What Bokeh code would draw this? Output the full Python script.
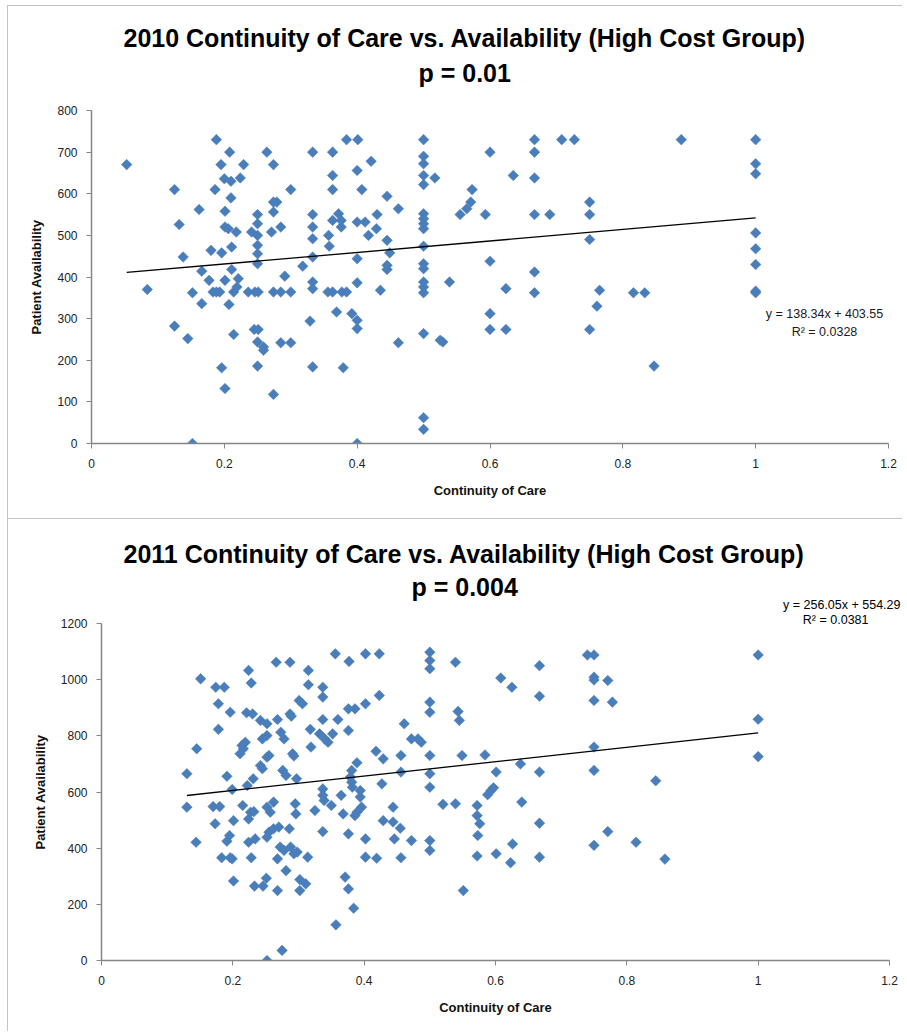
import numpy as np
from bokeh.plotting import figure
from bokeh.models import Range1d, FixedTicker, PrintfTickFormatter, Label, Title
from bokeh.embed import file_html
from bokeh.resources import INLINE

# 2010 high cost group: continuity of care vs patient availability
x_2010 = [0.053, 0.084, 0.125, 0.132, 0.138, 0.125, 0.145, 0.152, 0.162, 0.166,
          0.166, 0.152, 0.180, 0.177, 0.183, 0.188, 0.193, 0.188, 0.186, 0.195,
          0.196, 0.201, 0.201, 0.201, 0.196, 0.201, 0.207, 0.208, 0.200, 0.210,
          0.210, 0.206, 0.211, 0.211, 0.214, 0.218, 0.224, 0.229, 0.221, 0.219,
          0.214, 0.236, 0.246, 0.251, 0.241, 0.250, 0.250, 0.250, 0.250, 0.250,
          0.250, 0.245, 0.251, 0.250, 0.259, 0.259, 0.250, 0.264, 0.274, 0.271,
          0.274, 0.279, 0.274, 0.274, 0.274, 0.285, 0.285, 0.285, 0.291, 0.300,
          0.300, 0.300, 0.318, 0.329, 0.333, 0.333, 0.333, 0.333, 0.333, 0.333,
          0.333, 0.333, 0.357, 0.358, 0.356, 0.363, 0.363, 0.363, 0.363, 0.363,
          0.369, 0.372, 0.376, 0.376, 0.377, 0.384, 0.379, 0.384, 0.401, 0.400,
          0.407, 0.400, 0.400, 0.400, 0.392, 0.400, 0.400, 0.400,
          0.412, 0.421, 0.445, 0.462, 0.430, 0.429, 0.417, 0.445, 0.449, 0.445,
          0.445, 0.435, 0.462, 0.5, 0.5, 0.5, 0.5, 0.5, 0.517, 0.5,
          0.5, 0.5, 0.5, 0.5, 0.5, 0.5, 0.5, 0.5, 0.5, 0.539,
          0.5, 0.525, 0.529, 0.5, 0.5, 0.555, 0.565, 0.571, 0.573, 0.593,
          0.6, 0.6, 0.6, 0.6, 0.624, 0.624, 0.635, 0.667, 0.667, 0.667,
          0.667, 0.69, 0.667, 0.667, 0.708, 0.727, 0.75, 0.75, 0.75, 0.75,
          0.765, 0.761, 0.816, 0.833, 0.847, 0.888, 1.0, 1.0, 1.0, 1.0,
          1.0, 1.0, 1.0, 1.0]
y_2010 = [670, 370, 610, 526, 448, 282, 252, 362, 562, 414,
          336, 0, 464, 392, 364, 364, 364, 730, 610, 670,
          458, 558, 520, 392, 182, 132, 334, 700, 636, 630,
          590, 516, 418, 472, 262, 508, 638, 670, 396, 376,
          364, 364, 364, 364, 508, 550, 528, 500, 476, 456,
          432, 274, 274, 244, 232, 224, 186, 700, 670, 508,
          580, 580, 556, 364, 118, 520, 364, 242, 402, 610,
          364, 242, 426, 294, 700, 550, 520, 492, 448, 388,
          372, 184, 500, 474, 364, 364, 700, 644, 610, 536,
          316, 552, 536, 520, 364, 364, 182, 730, 730, 656,
          610, 532, 444, 386, 312, 296, 276, 0,
          532, 678, 594, 564, 550, 516, 500, 488, 458, 428,
          418, 368, 242, 730, 690, 672, 644, 622, 638, 552,
          540, 528, 516, 474, 432, 420, 388, 376, 362, 388,
          264, 248, 244, 62, 34, 550, 564, 580, 610, 550,
          700, 438, 312, 274, 372, 274, 644, 730, 700, 638,
          550, 550, 412, 362, 730, 730, 580, 550, 490, 274,
          368, 330, 362, 362, 186, 730, 730, 672, 648, 506,
          468, 430, 366, 362]

# 2011 high cost group
x_2011 = [0.130, 0.130, 0.145, 0.144, 0.151, 0.174, 0.187, 0.178, 0.178, 0.170,
          0.180, 0.173, 0.191, 0.196, 0.199, 0.201, 0.195, 0.191, 0.183, 0.196,
          0.199, 0.201, 0.224, 0.228, 0.221, 0.230, 0.214, 0.219, 0.211, 0.216,
          0.231, 0.222, 0.215, 0.227, 0.232, 0.224, 0.224, 0.234, 0.228, 0.233,
          0.246, 0.251, 0.252, 0.266, 0.287, 0.242, 0.252, 0.245, 0.252, 0.255,
          0.252, 0.242, 0.245, 0.252, 0.262, 0.257, 0.255, 0.262, 0.270, 0.252,
          0.268, 0.273, 0.278, 0.276, 0.281, 0.268, 0.272, 0.278, 0.281, 0.268,
          0.275, 0.287, 0.289, 0.291, 0.293, 0.297, 0.295, 0.296, 0.286, 0.288,
          0.293, 0.298, 0.302, 0.311, 0.302, 0.301, 0.306, 0.315, 0.315, 0.318,
          0.319, 0.314, 0.325, 0.332, 0.340, 0.345, 0.337, 0.337, 0.337, 0.337,
          0.337, 0.339, 0.350, 0.337, 0.356, 0.360, 0.352, 0.368, 0.357,
          0.377, 0.402, 0.423, 0.376, 0.386, 0.402, 0.423, 0.376, 0.389, 0.381,
          0.379, 0.381, 0.382, 0.394, 0.394, 0.365, 0.396, 0.389, 0.386, 0.376,
          0.371, 0.376, 0.384, 0.418, 0.429, 0.427, 0.444, 0.429, 0.444, 0.455,
          0.402, 0.446, 0.402, 0.419, 0.456, 0.472, 0.461, 0.456, 0.456, 0.472,
          0.482, 0.487, 0.5, 0.5, 0.5, 0.5, 0.5, 0.5, 0.5, 0.5,
          0.5, 0.5, 0.52, 0.539, 0.543, 0.545, 0.549, 0.539, 0.551, 0.572,
          0.572, 0.576, 0.573, 0.572, 0.584, 0.588, 0.593, 0.597, 0.601, 0.601,
          0.608, 0.625, 0.626, 0.623, 0.638, 0.640, 0.667, 0.667, 0.667, 0.667,
          0.667, 0.740, 0.750, 0.750, 0.750, 0.771, 0.750, 0.778, 0.750, 0.750,
          0.844, 0.771, 0.750, 0.814, 0.858, 1.0, 1.0, 1.0]
y_2011 = [665, 546, 754, 421, 1003, 973, 973, 914, 823, 548,
          548, 487, 656, 884, 609, 498, 445, 425, 366, 366,
          362, 283, 1033, 988, 882, 878, 766, 777, 736, 754,
          647, 623, 552, 528, 530, 504, 421, 433, 366, 265,
          265, 293, 0, 1062, 1062, 855, 843, 789, 801, 730,
          724, 694, 683, 546, 564, 528, 457, 469, 475, 439,
          858, 813, 789, 677, 659, 362, 404, 392, 320, 249,
          36, 878, 870, 736, 728, 647, 558, 522, 469, 404,
          380, 386, 288, 273, 249, 926, 914, 1033, 982, 823,
          760, 368, 534, 807, 789, 777, 973, 938, 858, 611,
          588, 570, 552, 459, 1092, 858, 807, 522, 127,
          1065, 1092, 1092, 896, 896, 914, 944, 819, 704, 677,
          653, 635, 617, 605, 582, 588, 546, 528, 516, 451,
          297, 255, 186, 745, 718, 629, 546, 498, 493, 471,
          433, 433, 368, 364, 366, 427, 843, 730, 671, 789,
          789, 777, 1098, 1068, 1039, 920, 884, 730, 665, 617,
          427, 392, 556, 1062, 887, 855, 730, 558, 249, 552,
          516, 487, 445, 372, 732, 590, 605, 615, 671, 380,
          1006, 973, 415, 348, 700, 564, 1050, 941, 671, 489,
          368, 1088, 1088, 1009, 999, 997, 926, 920, 760, 677,
          640, 459, 410, 421, 361, 1088, 859, 726]

x_ticks = [0, 0.2, 0.4, 0.6, 0.8, 1, 1.2]
y_ticks_2010 = [0, 100, 200, 300, 400, 500, 600, 700, 800]
y_ticks_2011 = [0, 200, 400, 600, 800, 1000, 1200]

fit_2010 = (138.34, 403.55, "0.0328")
fit_2011 = (256.05, 554.29, "0.0381")

FONT = "Liberation Sans"
BLUE = "#4a7ebb"
AXIS_GREY = "#868686"
BORDER = "1px solid #c4c4c4"


def make_panel(xs, ys, y_ticks, fit, width, height, borders):
    p = figure(width=width, height=height, output_backend="svg",
               toolbar_location=None,
               x_range=Range1d(0, 1.2), y_range=Range1d(0, y_ticks[-1]),
               min_border_left=borders[0], min_border_right=borders[1],
               min_border_top=borders[2], min_border_bottom=borders[3],
               x_axis_label="Continuity of Care",
               y_axis_label="Patient Availability")
    p.outline_line_color = None
    p.xgrid.visible = False
    p.ygrid.visible = False

    p.xaxis.ticker = FixedTicker(ticks=x_ticks)
    p.xaxis.formatter = PrintfTickFormatter(format="%g")
    p.yaxis.ticker = FixedTicker(ticks=y_ticks)

    for ax in (p.xaxis[0], p.yaxis[0]):
        ax.axis_line_color = AXIS_GREY
        ax.axis_line_width = 1.5
        ax.major_tick_line_color = AXIS_GREY
        ax.minor_tick_line_color = None
        ax.major_tick_in = 0
        ax.major_tick_out = 5
        ax.major_label_text_font = FONT
        ax.major_label_text_font_size = "12px"
        ax.major_label_text_color = "#222222"
        ax.axis_label_text_font = FONT
        ax.axis_label_text_font_style = "bold"
        ax.axis_label_text_font_size = "13px"
        ax.axis_label_text_color = "#111111"
    p.yaxis.major_label_standoff = 9
    p.xaxis.major_label_standoff = 10
    p.yaxis.axis_label_standoff = 10
    p.xaxis.axis_label_standoff = 12

    p.scatter(xs, ys, marker="square", angle=np.pi / 4, size=7.5,
              fill_color=BLUE, line_color=BLUE, line_width=0.5)

    # linear trendline over the span of the data
    slope, intercept, r2 = fit
    x_fit = np.array([min(xs), max(xs)])
    p.line(x_fit, slope * x_fit + intercept, line_color="black", line_width=1.3)
    return p


def add_title(p, text, offset, standoff, size="25px", bold=True, align="left"):
    p.add_layout(Title(text=text, align=align, offset=offset, standoff=standoff,
                       text_font=FONT, text_font_size=size,
                       text_font_style="bold" if bold else "normal",
                       text_color="black"), "above")


p1 = make_panel(x_2010, y_2010, y_ticks_2010, fit_2010, 895, 514, (83, 15, 104, 77))
# empty spacer between the frame and the title block
add_title(p1, " ", 0, 18, size="1px", bold=False)
add_title(p1, "p = 0.01", 327, 5)
add_title(p1, "2010 Continuity of Care vs. Availability (High Cost Group)", 32, 5)
for text, ty in zip(["y = 138.34x + 403.55", "R\u00b2 = " + fit_2010[2]], (312, 267)):
    p1.add_layout(Label(x=1.1036, y=ty, text=text, text_align="center",
                        text_baseline="middle", text_font=FONT,
                        text_font_size="12.5px", text_color="#1a1a1a"))
p1.margin = (5, 0, 0, 7)
p1.styles = {"border-top": BORDER, "border-left": BORDER, "border-bottom": BORDER}

p2 = make_panel(x_2011, y_2011, y_ticks_2011, fit_2011, 895, 512, (93, 14, 104, 71))
add_title(p2, "R\u00b2 = " + fit_2011[2], 21, -6, size="12.5px", bold=False, align="right")
add_title(p2, "y = 256.05x + 554.29", -11, 3, size="12.5px", bold=False, align="right")
add_title(p2, "p = 0.004", 310, -12)
add_title(p2, "2011 Continuity of Care vs. Availability (High Cost Group)", 22, 17)
p2.margin = (0, 0, 0, 7)
p2.styles = {"border-left": BORDER}

open("out.html", "w").write(file_html([p1, p2], INLINE))
